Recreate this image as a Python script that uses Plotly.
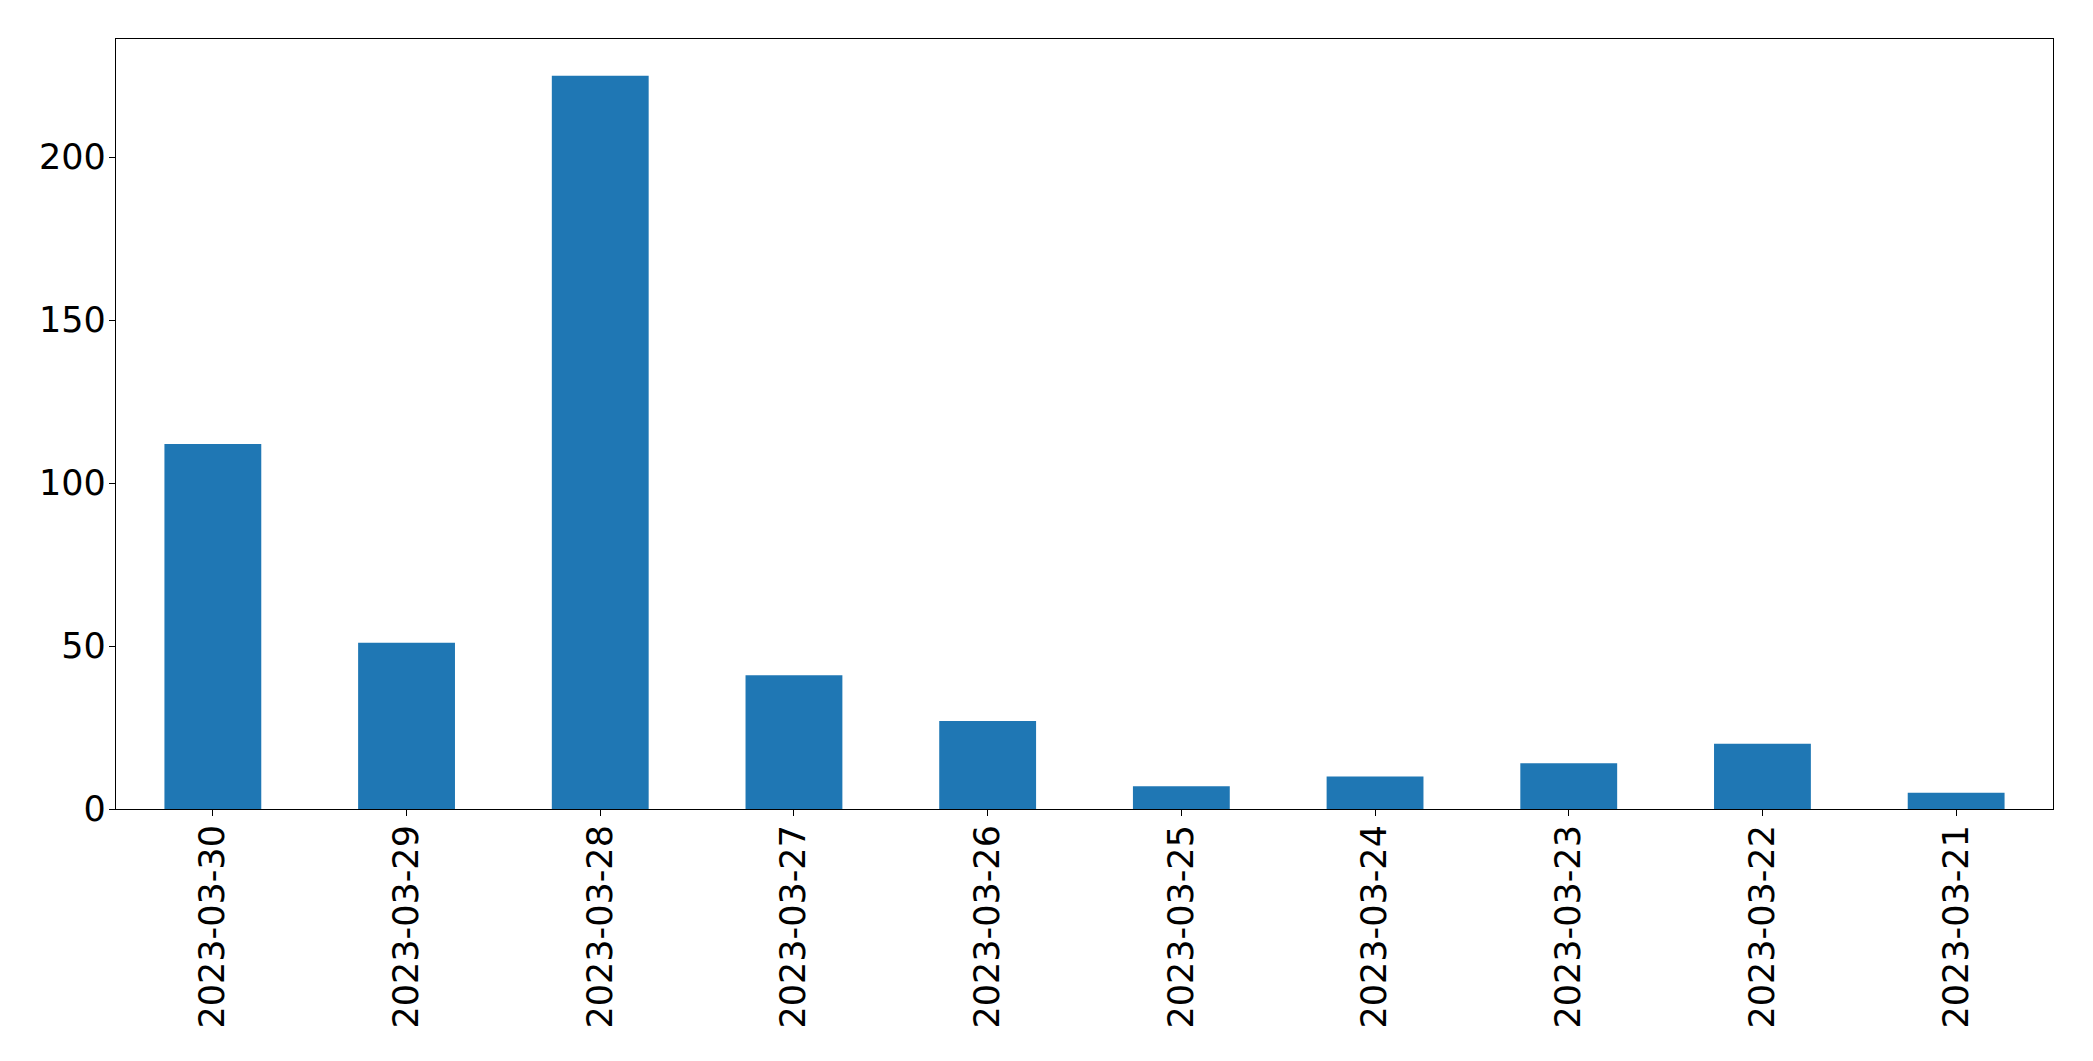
import plotly.graph_objects as go

dates = ["2023-03-30", "2023-03-29", "2023-03-28", "2023-03-27", "2023-03-26",
         "2023-03-25", "2023-03-24", "2023-03-23", "2023-03-22", "2023-03-21"]
counts = [112, 51, 225, 41, 27, 7, 10, 14, 20, 5]
y_ticks = [0, 50, 100, 150, 200]

fig = go.Figure(go.Bar(x=dates, y=counts, width=0.5, marker=dict(color="#1f77b4", line=dict(width=0))))

font = dict(family="DejaVu Sans", size=35, color="black")
fig.update_layout(
    width=2093, height=1061,
    margin=dict(l=108, r=48, t=31, b=260),
    paper_bgcolor="white", plot_bgcolor="white",
    showlegend=False,
    font=font,
)
fig.update_xaxes(
    type="category", range=[-0.5, len(dates) - 0.5],
    showline=True, linecolor="black", linewidth=1.2, mirror=True,
    ticks="outside", ticklen=6, tickwidth=1.2, tickcolor="black",
    tickangle=-90, tickfont=font, showgrid=False, zeroline=False,
    ticklabelstandoff=-5,
)
fig.update_yaxes(
    range=[0, max(counts) * 1.05], tickvals=y_ticks,
    showline=True, linecolor="black", linewidth=1.2, mirror=True,
    ticks="outside", ticklen=6, tickwidth=1.2, tickcolor="black",
    tickfont=font, showgrid=False, zeroline=False,
    ticklabelstandoff=-4,
)
fig.write_html("out.html")
